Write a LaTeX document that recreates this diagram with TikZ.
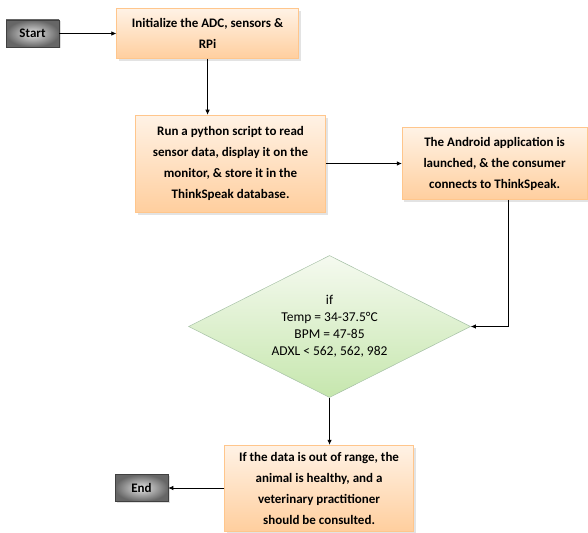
\documentclass[tikz,border=0pt]{standalone}
\usepackage{fontspec}
\setmainfont{Carlito}
\usetikzlibrary{positioning,arrows.meta,shapes.geometric,shadows}
\tikzset{
  terminal/.style = {draw=black!75, line width=0.6pt, inner color=black!10, outer color=black!60,
                     minimum width=53pt, minimum height=27pt, inner sep=2pt,
                     font=\bfseries\fontsize{13}{15}\selectfont,
                     drop shadow={opacity=0.25, shadow xshift=1.5pt, shadow yshift=-1.5pt}},
  process/.style  = {draw=orange!45, line width=0.5pt, top color=orange!10, bottom color=orange!38,
                     align=center, inner sep=2pt,
                     font=\bfseries\fontsize{13}{21}\selectfont,
                     drop shadow={opacity=0.22, shadow xshift=2pt, shadow yshift=-2.5pt}},
  decision/.style = {diamond, draw=green!30!black!35, line width=0.5pt,
                     top color=green!30!olive!6, bottom color=green!40!olive!32,
                     align=center, aspect=2, inner sep=-10pt,
                     minimum width=282pt, minimum height=142pt,
                     font=\fontsize{13.5}{17}\selectfont},
  edge/.style     = {-{Latex[length=5pt,width=4.5pt]}, line width=0.7pt}
}

\begin{document}
\begin{tikzpicture}[x=1pt, y=1pt]
  \useasboundingbox (0,0) rectangle (588,-532);

  % Start and setup
  \node[terminal] (Start) at (32.5,-33.5) {Start};
  \node[process, right=57pt of Start, minimum width=182pt, minimum height=50pt] (Init)
       {Initialize the ADC, sensors \&\\RPi};

  % Reading and app
  \node[process, below=56pt of Init, xshift=23pt, minimum width=190pt, minimum height=97pt] (Run)
       {Run a python script to read\\sensor data, display it on the\\monitor, \& store it in the\\ThinkSpeak database.};
  \node[process, right=76pt of Run, minimum width=185pt, minimum height=72pt] (App)
       {The Android application is\\launched, \& the consumer\\connects to ThinkSpeak.};

  % Check
  \node[decision, below=43pt of Run, xshift=99pt] (Check)
       {if\\Temp = 34-37.5°C\\BPM = 47-85\\ADXL < 562, 562, 982};

  % Result and end
  \node[process, below=47pt of Check, xshift=-10.5pt, minimum width=189pt, minimum height=86pt] (Result)
       {If the data is out of range, the\\animal is healthy, and a\\veterinary practitioner\\should be consulted.};
  \node[terminal, left=56pt of Result] (End) {End};

  % Edges
  \coordinate (drop) at ([xshift=13.5pt]App.south);
  \draw[edge] (Start.east) -- (Start.east -| Init.west);
  \draw[edge] (Init.south) -- (Init.south |- Run.north);
  \draw[edge] (Run.east) -- (App.west);
  \draw[edge] (drop) |- (Check.east);
  \draw[edge] (Check.south) -- (Check.south |- Result.north);
  \draw[edge] (Result.west) -- (End.east);

\end{tikzpicture}
\end{document}
